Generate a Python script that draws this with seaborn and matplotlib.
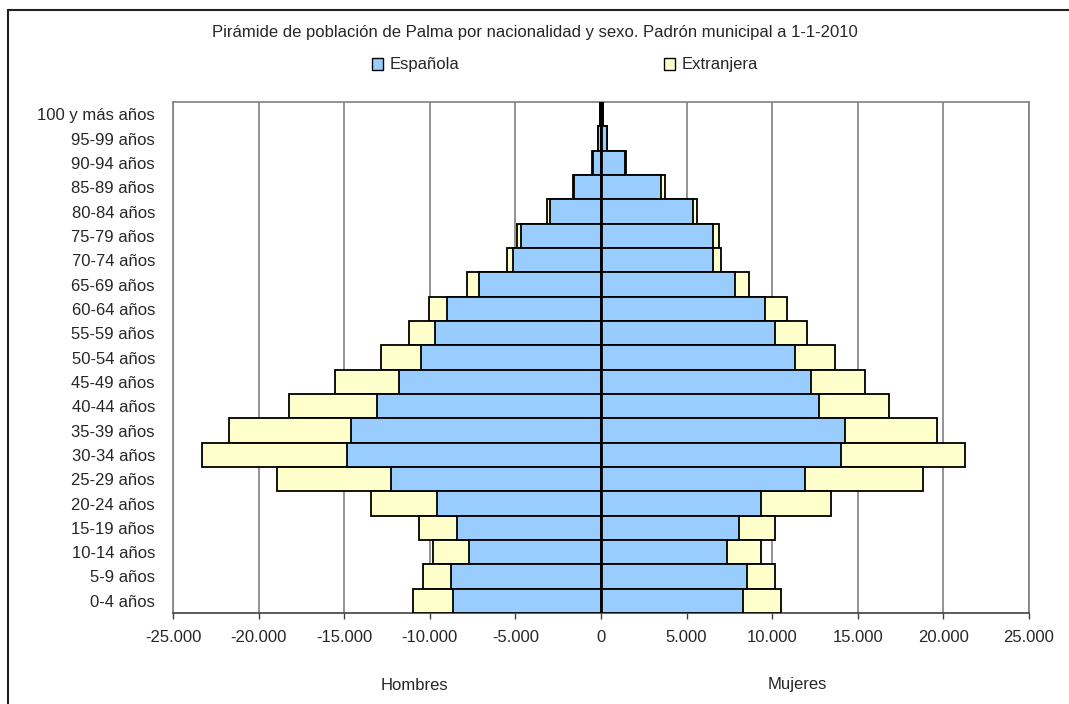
import matplotlib
matplotlib.use("Agg")
import matplotlib.pyplot as plt
import seaborn as sns
import pandas as pd
from matplotlib.patches import Patch, Rectangle
from matplotlib.ticker import FuncFormatter

# Datos (de arriba a abajo)
grupos = ["100 y más años", "95-99 años", "90-94 años", "85-89 años", "80-84 años",
          "75-79 años", "70-74 años", "65-69 años", "60-64 años", "55-59 años",
          "50-54 años", "45-49 años", "40-44 años", "35-39 años", "30-34 años",
          "25-29 años", "20-24 años", "15-19 años", "10-14 años", "5-9 años", "0-4 años"]

hombres_esp = [40, 180, 470, 1560, 2980, 4690, 5160, 7120, 9010, 9690,
               10530, 11800, 13080, 14600, 14830, 12260, 9600, 8410, 7710, 8760, 8640]
hombres_ext = [5, 10, 40, 70, 190, 235, 350, 720, 1030, 1520,
               2330, 3740, 5140, 7140, 8450, 6680, 3850, 2220, 2100, 1640, 2350]
mujeres_esp = [110, 330, 1400, 3480, 5350, 6560, 6540, 7830, 9580, 10160,
               11330, 12260, 12730, 14250, 14020, 11910, 9340, 8060, 7340, 8510, 8270]
mujeres_ext = [5, 20, 50, 270, 250, 330, 450, 820, 1280, 1870,
               2340, 3150, 4090, 5390, 7240, 6910, 4090, 2100, 2000, 1650, 2240]

color_esp = "#99CCFF"
color_ext = "#FFFFCC"

df = pd.DataFrame({
    "Edad": grupos,
    "h_esp": [-v for v in hombres_esp],
    "h_tot": [-(a + b) for a, b in zip(hombres_esp, hombres_ext)],
    "m_esp": mujeres_esp,
    "m_tot": [a + b for a, b in zip(mujeres_esp, mujeres_ext)],
})

sns.set_theme(style="white")
plt.rcParams["font.family"] = ["Liberation Sans", "DejaVu Sans"]

fig = plt.figure(figsize=(10.69, 7.04), dpi=100)
ax = fig.add_axes([173 / 1069, 1 - 613 / 704, (1029 - 173) / 1069, (613 - 102) / 704])

# Barras totales (extranjera) primero y española encima
for col, color in [("h_tot", color_ext), ("m_tot", color_ext), ("h_esp", color_esp), ("m_esp", color_esp)]:
    sns.barplot(data=df, x=col, y="Edad", orient="h", color=color, width=1.0,
                edgecolor="black", linewidth=1.3, saturation=1, ax=ax, zorder=3)

ax.set_xlim(-25000, 25000)
ax.set_ylim(len(grupos) - 0.5, -0.5)
ax.set_xticks(range(-25000, 25001, 5000))
ax.xaxis.set_major_formatter(FuncFormatter(lambda v, p: f"{int(v):,}".replace(",", ".")))
ax.set_xlabel("")
ax.set_ylabel("")

# Rejilla vertical
ax.grid(axis="x", color="#808080", linewidth=1.2, zorder=0)
ax.grid(axis="y", visible=False)
ax.set_axisbelow(True)
ax.axvline(0, color="black", linewidth=2, zorder=4)

for s in ["top", "right", "left"]:
    ax.spines[s].set_color("#808080")
    ax.spines[s].set_linewidth(1.2)
ax.spines["bottom"].set_color("#404040")
ax.spines["bottom"].set_linewidth(1.2)

fs = 12
ax.tick_params(axis="x", direction="out", length=4, width=1, color="#404040",
               labelsize=fs, pad=8, bottom=True)
ax.tick_params(axis="y", length=0, labelsize=fs, pad=13)

# Título y leyenda
fig.text(535 / 1069, 1 - 32 / 704,
         "Pirámide de población de Palma por nacionalidad y sexo. Padrón municipal a 1-1-2010",
         ha="center", va="center", fontsize=fs)
handles = [Patch(facecolor=color_esp, edgecolor="black", label="Española"),
           Patch(facecolor=color_ext, edgecolor="black", label="Extranjera")]
fig.legend(handles=handles, loc="center", bbox_to_anchor=(565 / 1069, 1 - 65 / 704),
           ncol=2, frameon=False, fontsize=fs, handlelength=0.65, handleheight=0.75,
           handletextpad=0.4, columnspacing=12.3)

fig.text(414 / 1069, 1 - 685 / 704, "Hombres", ha="center", va="center", fontsize=fs)
fig.text(797 / 1069, 1 - 685 / 704, "Mujeres", ha="center", va="center", fontsize=fs)

# Marco exterior
fig.patches.append(Rectangle((8 / 1069, -0.05), 1.1, 1 - 10 / 704 + 0.05,
                             transform=fig.transFigure, fill=False,
                             edgecolor="#202020", linewidth=1.5))

fig.savefig("out.png", dpi=100)
